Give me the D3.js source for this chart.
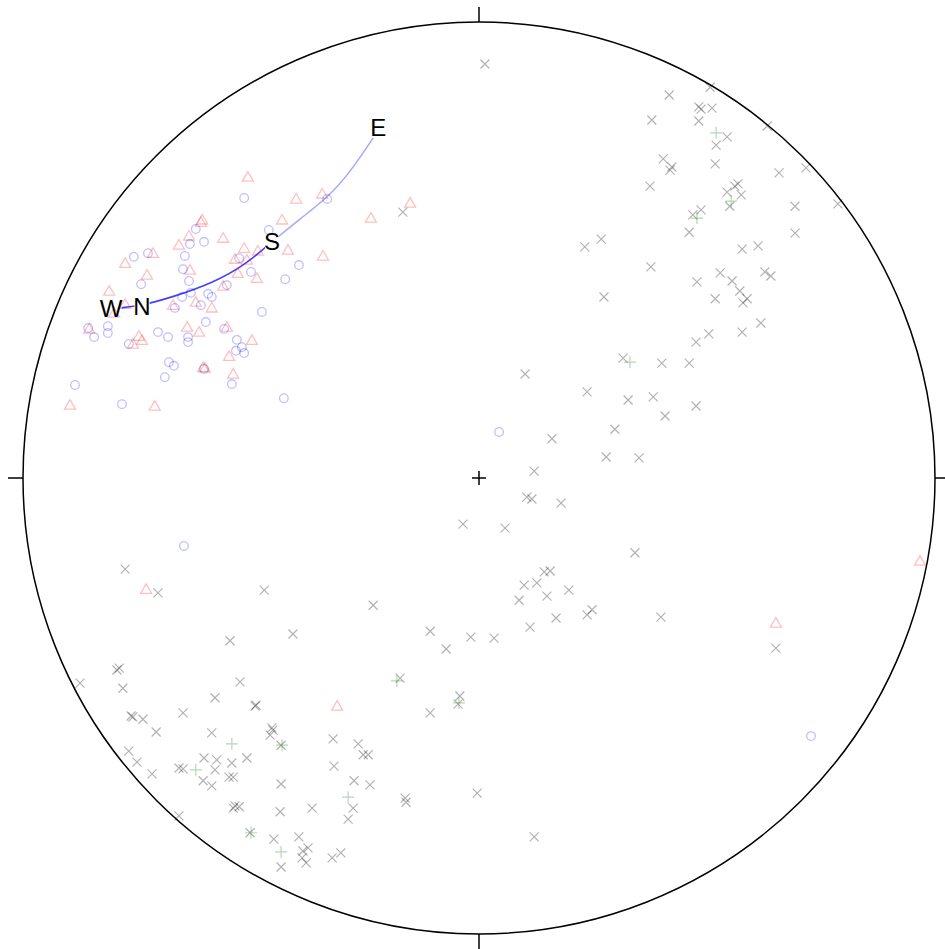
<!DOCTYPE html>
<head>
  <meta charset="utf-8">
  <script src="https://d3js.org/d3.v7.min.js"></script>
  <style>
    body { margin:0; background:#fff; }
    text { font-family: "Liberation Sans", Arial, sans-serif; }
  </style>
</head>
<body>
<script>
  // positions in projection units: the net is the unit circle
  var tri = [
    [-0.507,0.658],[-0.401,0.610],[-0.344,0.621],[-0.237,0.568],[-0.151,0.601],
    [-0.610,0.559],[-0.607,0.564],[-0.432,0.564],[-0.561,0.524],[-0.636,0.529],
    [-0.658,0.509],[-0.515,0.502],[-0.485,0.496],[-0.419,0.498],[-0.342,0.485],
    [-0.715,0.491],[-0.776,0.469],[-0.634,0.454],[-0.728,0.443],[-0.535,0.478],
    [-0.509,0.476],[-0.529,0.447],[-0.487,0.436],[-0.561,0.419],[-0.811,0.408],
    [-0.776,0.379],[-0.671,0.377],[-0.621,0.384],[-0.586,0.371],[-0.800,0.360],
    [-0.640,0.329],[-0.614,0.318],[-0.553,0.329],[-0.498,0.300],[-0.746,0.309],
    [-0.759,0.292],[-0.739,0.300],[-0.855,0.325],[-0.548,0.265],[-0.605,0.241],
    [-0.601,0.239],[-0.539,0.226],[-0.897,0.158],[-0.711,0.156],[-0.730,-0.246],
    [-0.311,-0.502],[0.651,-0.320],[0.967,-0.184]
  ];
  var circ = [
    [-0.515,0.614],[-0.333,0.612],[-0.621,0.546],[-0.603,0.518],[-0.634,0.513],
    [-0.461,0.544],[-0.757,0.485],[-0.726,0.493],[-0.645,0.487],[-0.649,0.458],
    [-0.636,0.432],[-0.741,0.425],[-0.526,0.482],[-0.500,0.452],[-0.395,0.467],
    [-0.425,0.436],[-0.553,0.423],[-0.632,0.406],[-0.651,0.397],[-0.594,0.404],
    [-0.586,0.397],[-0.610,0.379],[-0.667,0.373],[-0.476,0.364],[-0.599,0.342],
    [-0.857,0.329],[-0.814,0.333],[-0.814,0.318],[-0.844,0.309],[-0.704,0.320],
    [-0.682,0.309],[-0.768,0.294],[-0.638,0.309],[-0.638,0.298],[-0.559,0.327],
    [-0.531,0.303],[-0.520,0.287],[-0.533,0.279],[-0.515,0.274],[-0.680,0.254],
    [-0.669,0.246],[-0.689,0.221],[-0.603,0.239],[-0.542,0.206],[-0.886,0.204],
    [-0.783,0.162],[-0.428,0.175],[0.044,0.101],[-0.647,-0.149],[0.728,-0.566]
  ];
  var cross = [
    [0.013,0.908],[0.417,0.840],[0.507,0.857],[0.482,0.814],[0.487,0.809],
    [0.511,0.811],[0.379,0.785],[0.482,0.783],[0.632,0.772],[0.520,0.730],
    [0.544,0.748],[0.404,0.700],[0.423,0.682],[0.419,0.675],[0.518,0.689],
    [0.658,0.669],[0.717,0.680],[0.375,0.640],[0.568,0.645],[0.561,0.640],
    [0.544,0.627],[0.575,0.621],[0.550,0.596],[0.693,0.596],[0.787,0.601],
    [0.469,0.577],[0.487,0.588],[0.461,0.539],[0.693,0.537],[0.268,0.524],
    [0.232,0.507],[0.577,0.502],[0.612,0.509],[0.377,0.463],[0.529,0.450],
    [0.627,0.452],[0.640,0.443],[0.478,0.430],[0.555,0.432],[0.572,0.410],
    [0.588,0.393],[0.579,0.384],[0.518,0.393],[0.274,0.397],[0.618,0.340],
    [0.577,0.320],[0.504,0.316],[0.476,0.298],[0.316,0.263],[0.401,0.252],
    [0.461,0.252],[0.101,0.228],[0.237,0.189],[0.327,0.171],[0.382,0.178],
    [0.476,0.158],[0.408,0.136],[0.160,0.086],[0.298,0.107],[0.279,0.046],
    [0.351,0.044],[0.121,0.015],[-0.167,0.583],
    [0.105,-0.042],[0.116,-0.046],[0.180,-0.055],[-0.035,-0.101],[0.057,-0.110],
    [0.342,-0.164],[0.143,-0.206],[0.156,-0.204],[0.099,-0.235],[0.127,-0.230],
    [0.197,-0.246],[0.149,-0.259],[0.088,-0.268],[0.169,-0.307],[0.237,-0.300],
    [0.248,-0.289],[0.399,-0.305],[-0.107,-0.336],[0.112,-0.327],[-0.018,-0.349],
    [0.033,-0.351],[-0.072,-0.375],[0.651,-0.373],[-0.173,-0.439],[-0.042,-0.478],
    [-0.046,-0.496],[-0.107,-0.515],[-0.162,-0.702],[-0.160,-0.711],[-0.004,-0.691],
    [0.121,-0.787],
    [-0.776,-0.200],[-0.704,-0.252],[-0.471,-0.246],[-0.232,-0.279],[-0.408,-0.342],
    [-0.546,-0.357],[-0.794,-0.421],[-0.789,-0.417],[-0.875,-0.450],[-0.781,-0.461],
    [-0.524,-0.447],[-0.579,-0.482],[-0.489,-0.498],[-0.491,-0.500],[-0.763,-0.522],
    [-0.759,-0.524],[-0.737,-0.529],[-0.649,-0.515],[-0.708,-0.557],[-0.586,-0.559],
    [-0.454,-0.548],[-0.452,-0.553],[-0.458,-0.564],[-0.434,-0.586],[-0.320,-0.572],
    [-0.265,-0.583],[-0.254,-0.607],[-0.243,-0.607],[-0.768,-0.599],[-0.750,-0.623],
    [-0.717,-0.649],[-0.658,-0.636],[-0.649,-0.638],[-0.603,-0.614],[-0.575,-0.618],
    [-0.542,-0.625],[-0.509,-0.614],[-0.579,-0.640],[-0.605,-0.664],[-0.586,-0.675],
    [-0.548,-0.656],[-0.539,-0.656],[-0.434,-0.671],[-0.318,-0.632],[-0.274,-0.664],
    [-0.239,-0.673],[-0.535,-0.719],[-0.526,-0.721],[-0.539,-0.724],[-0.436,-0.732],
    [-0.366,-0.724],[-0.276,-0.724],[-0.287,-0.748],[-0.658,-0.741],[-0.502,-0.778],
    [-0.450,-0.792],[-0.395,-0.787],[-0.386,-0.818],[-0.375,-0.811],[-0.388,-0.833],
    [-0.379,-0.844],[-0.434,-0.853],[-0.322,-0.833],[-0.303,-0.822]
  ];
  var plus = [
    [0.520,0.757],[0.553,0.607],[0.478,0.570],[0.331,0.254],[-0.180,-0.445],
    [-0.044,-0.493],[-0.542,-0.583],[-0.432,-0.586],[-0.621,-0.640],[-0.287,-0.700],
    [-0.500,-0.778],[-0.434,-0.820]
  ];
  // arc through the labelled points, W -> N -> S -> E
  var arcDark = [
    [-0.807,0.371],[-0.743,0.377],[-0.671,0.397],[-0.583,0.428],
    [-0.513,0.467],[-0.454,0.518]
  ];
  var arcLight = [
    [-0.454,0.518],[-0.393,0.568],[-0.333,0.614],[-0.285,0.667],[-0.232,0.746]
  ];
  var labels = [
    {t:"W", p:[-0.807,0.371]},
    {t:"N", p:[-0.739,0.375]},
    {t:"S", p:[-0.454,0.518]},
    {t:"E", p:[-0.221,0.768]}
  ];

  var W = 945, H = 949, cx = 479, cy = 478, R = 456;

  var x = d3.scaleLinear().domain([-1, 1]).range([cx - R, cx + R]);
  var y = d3.scaleLinear().domain([-1, 1]).range([cy + R, cy - R]);

  var svg = d3.select("body").append("svg")
    .attr("width", W)
    .attr("height", H);

  // primitive circle + ticks
  svg.append("circle")
    .attr("cx", x(0)).attr("cy", y(0)).attr("r", x(1) - x(0))
    .attr("fill", "none").attr("stroke", "#000").attr("stroke-width", 1.5);

  var tk = 15, cr = 7;
  var ticks = [
    [x(0), y(1) - tk, x(0), y(1)],
    [x(0), y(-1), x(0), y(-1) + tk],
    [x(-1) - tk, y(0), x(-1), y(0)],
    [x(1), y(0), x(1) + tk, y(0)],
    [x(0) - cr, y(0), x(0) + cr, y(0)],
    [x(0), y(0) - cr, x(0), y(0) + cr]
  ];
  svg.selectAll("line.tick")
    .data(ticks)
    .enter().append("line")
    .attr("class", "tick")
    .attr("x1", function(d) { return d[0]; })
    .attr("y1", function(d) { return d[1]; })
    .attr("x2", function(d) { return d[2]; })
    .attr("y2", function(d) { return d[3]; })
    .attr("stroke", "#000").attr("stroke-width", 1.5);

  // arc
  var line = d3.line()
    .x(function(d) { return x(d[0]); })
    .y(function(d) { return y(d[1]); })
    .curve(d3.curveBasis);

  svg.append("path")
    .attr("d", line(arcLight))
    .attr("fill", "none").attr("stroke", "#0000ff")
    .attr("stroke-opacity", 0.35).attr("stroke-width", 1.5);
  svg.append("path")
    .attr("d", line(arcDark))
    .attr("fill", "none").attr("stroke", "#0000ff")
    .attr("stroke-opacity", 0.75).attr("stroke-width", 1.6);

  // label text (white box behind so the arc breaks at each letter)
  var lab = svg.append("g");
  var txt = lab.selectAll("text")
    .data(labels)
    .enter().append("text")
    .attr("x", function(d) { return x(d.p[0]); })
    .attr("y", function(d) { return y(d.p[1]); })
    .attr("dy", "0.35em")
    .attr("text-anchor", "middle")
    .attr("font-size", 24)
    .attr("fill", "#000")
    .text(function(d) { return d.t; });

  var bg = svg.insert("g", function() { return lab.node(); });
  txt.each(function() {
    var b = this.getBBox();
    bg.append("rect")
      .attr("x", b.x + 1).attr("y", b.y + 5)
      .attr("width", b.width - 2).attr("height", b.height - 9)
      .attr("fill", "#fff");
  });

  // markers
  var marks = svg.insert("g", function() { return lab.node(); });

  marks.selectAll("path.x")
    .data(cross)
    .enter().append("path")
    .attr("class", "x")
    .attr("transform", function(d) { return "translate(" + x(d[0]) + "," + y(d[1]) + ")"; })
    .attr("d", "M-4.5,-4.5L4.5,4.5M-4.5,4.5L4.5,-4.5")
    .attr("fill", "none").attr("stroke", "#000")
    .attr("stroke-opacity", 0.3).attr("stroke-width", 1.2);

  marks.selectAll("path.p")
    .data(plus)
    .enter().append("path")
    .attr("class", "p")
    .attr("transform", function(d) { return "translate(" + x(d[0]) + "," + y(d[1]) + ")"; })
    .attr("d", "M-6,0L6,0M0,-6L0,6")
    .attr("fill", "none").attr("stroke", "#008000")
    .attr("stroke-opacity", 0.3).attr("stroke-width", 1.2);

  marks.selectAll("path.t")
    .data(tri)
    .enter().append("path")
    .attr("class", "t")
    .attr("transform", function(d) { return "translate(" + x(d[0]) + "," + y(d[1]) + ")"; })
    .attr("d", "M0,-6.3L5.5,3.2L-5.5,3.2Z")
    .attr("fill", "none").attr("stroke", "#ff0000")
    .attr("stroke-opacity", 0.25).attr("stroke-width", 1.3);

  marks.selectAll("circle.c")
    .data(circ)
    .enter().append("circle")
    .attr("class", "c")
    .attr("cx", function(d) { return x(d[0]); })
    .attr("cy", function(d) { return y(d[1]); })
    .attr("r", 4.3)
    .attr("fill", "none").attr("stroke", "#0000ff")
    .attr("stroke-opacity", 0.25).attr("stroke-width", 1.3);
</script>
</body>
